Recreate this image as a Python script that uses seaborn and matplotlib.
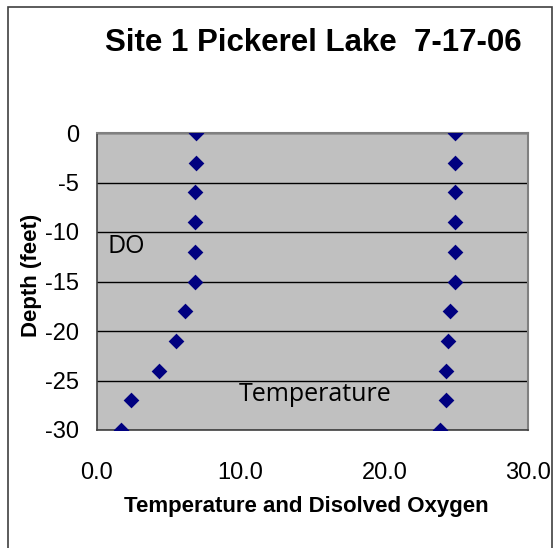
import numpy as np
import pandas as pd
import seaborn as sns
import matplotlib.pyplot as plt
from matplotlib.patches import Rectangle

# depth profile, Site 1 Pickerel Lake 7-17-06
depth = [0, -3, -6, -9, -12, -15, -18, -21, -24, -27, -30]
dissolved_oxygen = [6.9, 6.9, 6.8, 6.8, 6.8, 6.8, 6.1, 5.5, 4.3, 2.4, 1.7]
temperature = [24.9, 24.9, 24.9, 24.9, 24.9, 24.9, 24.6, 24.4, 24.3, 24.3, 23.9]

x_ticks = [0, 10, 20, 30]
y_ticks = [0, -5, -10, -15, -20, -25, -30]


def build_frame():
    rows = []
    for d, do, t in zip(depth, dissolved_oxygen, temperature):
        rows.append({'depth': d, 'value': do, 'series': 'DO'})
        rows.append({'depth': d, 'value': t, 'series': 'Temperature'})
    return pd.DataFrame(rows)


data = build_frame()

sns.set_style('white')
plt.rcParams['font.family'] = ['Liberation Sans', 'DejaVu Sans']
plt.rcParams['text.color'] = 'black'
plt.rcParams['axes.labelcolor'] = 'black'
plt.rcParams['xtick.color'] = 'black'
plt.rcParams['ytick.color'] = 'black'

fig = plt.figure(figsize=(5.53, 5.48), dpi=100)
ax = fig.add_axes([97 / 553, 1 - 430 / 548, 431 / 553, 297 / 548])
ax.set_facecolor('#c0c0c0')

sns.scatterplot(data=data, x='value', y='depth', color='#000080', marker='D',
                s=64, linewidth=0, legend=False, ax=ax, zorder=3)

ax.set_xlim(0, 30)
ax.set_ylim(-30, 0)
ax.set_xticks(x_ticks)
ax.set_xticklabels([f'{v:.1f}' for v in x_ticks], fontsize=17)
ax.set_yticks(y_ticks)
ax.set_yticklabels([str(v) for v in y_ticks], fontsize=17)
ax.tick_params(axis='x', direction='out', length=6, width=1, color='#404040', pad=17)
ax.tick_params(axis='y', direction='out', length=8, width=1, color='#404040', pad=5)
ax.yaxis.grid(True, color='black', linewidth=1)
ax.set_axisbelow(True)

for side in ['top', 'right']:
    ax.spines[side].set_color('#808080')
    ax.spines[side].set_linewidth(1.5)
for side in ['left', 'bottom']:
    ax.spines[side].set_color('#404040')
    ax.spines[side].set_linewidth(1.2)

ax.set_xlabel('Temperature and Disolved Oxygen', fontsize=16, fontweight='bold')
ax.xaxis.set_label_coords(0.485, -0.222)
ax.set_ylabel('Depth (feet)', fontsize=16, fontweight='bold')
ax.yaxis.set_label_coords(-0.128, 0.52)

ax.text(2.05, -11.5, 'DO', fontsize=18, family=['Open Sans', 'DejaVu Sans'],
        ha='center', va='center')
ax.text(15.15, -26.4, 'Temperature', fontsize=18, family=['Open Sans', 'DejaVu Sans'],
        ha='center', va='center')

fig.text(313 / 553, 1 - 51 / 548, 'Site 1 Pickerel Lake  7-17-06', fontsize=22.5,
         fontweight='bold', ha='center', va='baseline')

# outer chart border
fig.add_artist(Rectangle((8 / 553, -0.1), 544 / 553, 1.1 - 6.5 / 548,
                         transform=fig.transFigure, fill=False,
                         edgecolor='#404040', linewidth=1.2))

fig.savefig('out.png', dpi=100)
